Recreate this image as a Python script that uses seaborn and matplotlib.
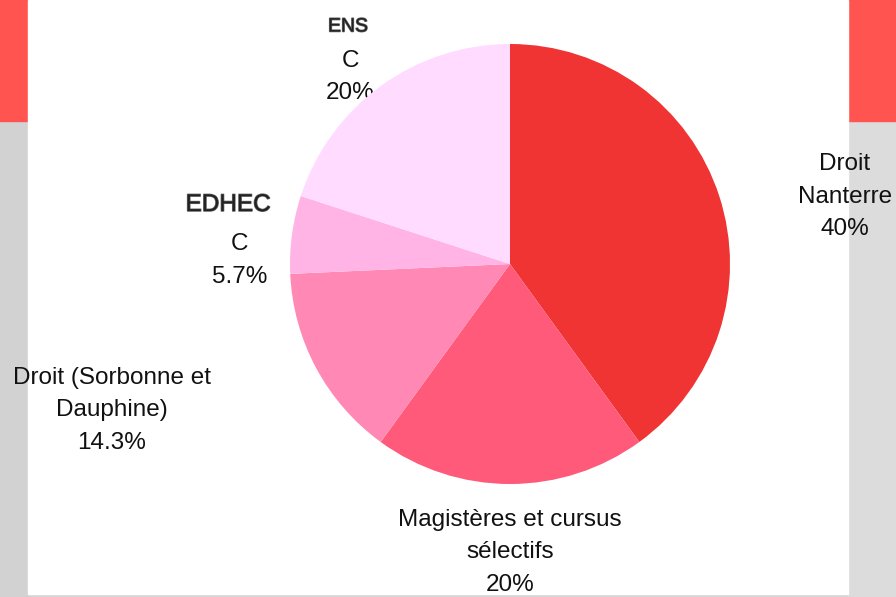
import matplotlib
matplotlib.use("Agg")
import matplotlib.pyplot as plt
import matplotlib.patches as mpatches
import matplotlib.patheffects as pe
import numpy as np
import seaborn as sns

# ── DATA ──────────────────────────────────────────────────────────────────────
categories = ["Droit\nNanterre", "Magistères et cursus\nsélectifs",
              "Droit (Sorbonne et\nDauphine)", "EDHEC", "ENS"]
counts = [14, 7, 5, 2, 7]
pct_labels = ["40%", "20%", "14.3%", "5.7%", "20%"]
colors = ["#F03333", "#FF5A7A", "#FF88B5", "#FFB4E5", "#FFDCFF"]
# ─────────────────────────────────────────────────────────────────────────────

sns.set_theme(style="white")
plt.rcParams["font.family"] = ["Liberation Sans", "DejaVu Sans"]

W, H = 896, 597
fig = plt.figure(figsize=(W / 100, H / 100), dpi=100)
fig.patch.set_facecolor("#D5D5D5")

# slide-like background: red bands on top, gray sides, white panel
def px_rect(x0, y0, x1, y1, color):
    fig.patches.append(mpatches.Rectangle((x0 / W, 1 - y1 / H), (x1 - x0) / W,
                                          (y1 - y0) / H, transform=fig.transFigure,
                                          color=color, zorder=-5))

px_rect(0, 121, 28, 597, "#D2D2D2")
px_rect(848, 121, 896, 597, "#DCDCDC")
px_rect(0, 0, 28, 121, "#FF5450")
px_rect(848, 0, 896, 121, "#FF5450")
px_rect(28, 0, 848, 594, "#FFFFFF")

ax = fig.add_axes([0, 0, 1, 1])
ax.set_facecolor("none")

palette = sns.color_palette(colors)
wedges, _ = ax.pie(counts, colors=palette, startangle=90, counterclock=False,
                   radius=1.0, wedgeprops=dict(linewidth=0, zorder=3))

# label layout (pie units, centre 0,0, radius 1)
fs = 17.5
txt = dict(ha="center", va="center", fontsize=fs, color="#111111",
           linespacing=1.62, zorder=2)
ax.text(1.523, 0.305, categories[0] + "\n" + pct_labels[0], **txt)
ax.text(0.0, -1.31, categories[1] + "\n" + pct_labels[1], **txt)
ax.text(-1.81, -0.664, categories[2] + "\n" + pct_labels[2], **txt)

# EDHEC / ENS labels drawn with a slightly different heading style
head = [pe.withStroke(linewidth=1.0, foreground="#666666")]
ax.text(-1.282, 0.268, categories[3], ha="center", va="center", fontsize=fs,
        color="#222222", path_effects=head)
ax.text(-1.228, 0.016, "C\n" + pct_labels[3], **txt)
ax.text(-0.736, 1.077, categories[4], ha="center", va="center", fontsize=14,
        color="#222222", path_effects=head)
ax.text(-0.727, 0.85, "C\n" + pct_labels[4], **txt)

ax.set_aspect("auto")
ax.set_xlim(-510 / 220, (W - 510) / 220)
ax.set_ylim((264 - H) / 220, 264 / 220)
ax.axis("off")

plt.savefig("out.png", dpi=100)
plt.close()
